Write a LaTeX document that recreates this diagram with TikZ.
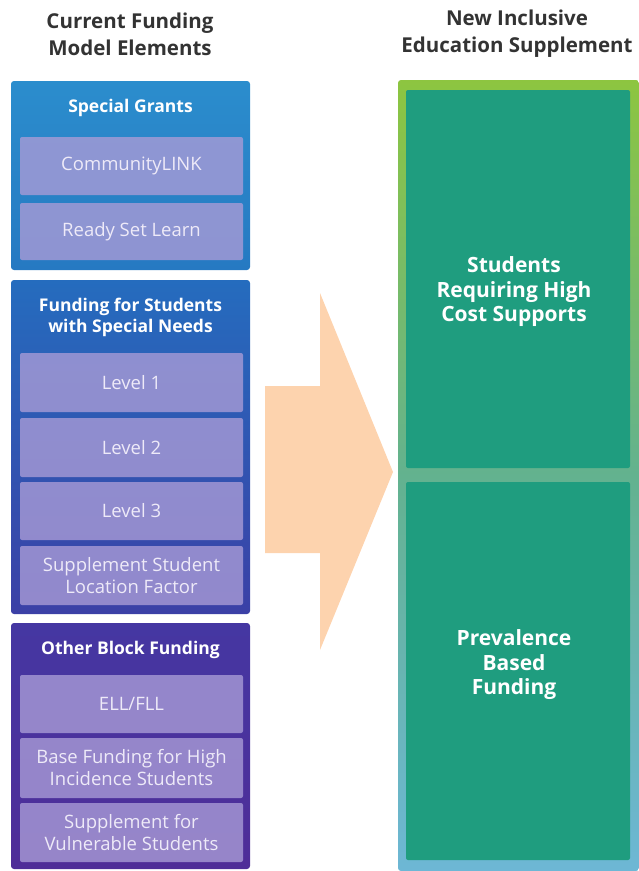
\documentclass[tikz,border=0pt]{standalone}
\usepackage{fontspec}
\setmainfont{Open Sans}
\usetikzlibrary{positioning}
\definecolor{titlegray}{HTML}{333333}
\definecolor{sgtop}{HTML}{2B8DCD}
\definecolor{sgbot}{HTML}{2679C2}
\definecolor{fsntop}{HTML}{256CBE}
\definecolor{fsnbot}{HTML}{3B40A6}
\definecolor{obftop}{HTML}{4537A2}
\definecolor{obfbot}{HTML}{4F2D98}
\definecolor{itemfill}{HTML}{A89BD6}
\definecolor{itemtext}{HTML}{EEEAF8}
\definecolor{newtop}{HTML}{8DC540}
\definecolor{newmid}{HTML}{63B28F}
\definecolor{newbot}{HTML}{6DB7D5}
\definecolor{tealfill}{HTML}{1F9D7F}
\definecolor{peach}{HTML}{FDD3AE}
\tikzset{
  coltitle/.style={font=\bfseries\fontsize{20.5}{27}\selectfont, text=titlegray, align=center},
  grp/.style={rounded corners=3pt, minimum width=239pt, inner sep=0pt},
  head/.style={font=\bfseries\fontsize{17.5}{21}\selectfont, text=white, align=center},
  item/.style={rounded corners=2pt, fill=itemfill, fill opacity=0.8, text opacity=1,
               minimum width=223pt, inner sep=0pt, text=itemtext, align=center,
               font=\fontsize{18.5}{22}\selectfont},
  part/.style={rounded corners=2pt, fill=tealfill, minimum width=224pt, minimum height=378pt,
               inner sep=0pt},
  parttext/.style={text=white, align=center, font=\bfseries\fontsize{21}{24.5}\selectfont},
}
\begin{document}
\begin{tikzpicture}[x=1pt, y=-1pt]
  \useasboundingbox (0,0) rectangle (639,871);
  % column titles
  \node[coltitle] (curtitle) at (130,34) {Current Funding\\Model Elements};
  \node[coltitle] (newtitle) at (517,34) {New Inclusive\\Education Supplement};
  % left groups
  \node[grp, minimum height=189pt, top color=sgtop, bottom color=sgbot] (sg) at (130.5,175.5) {};
  \node[grp, minimum height=334pt, top color=fsntop, bottom color=fsnbot] (fsn) at (130.5,447) {};
  \node[grp, minimum height=246pt, top color=obftop, bottom color=obfbot] (obf) at (130.5,746) {};
  \node[head] (sghead) at (130.5,108) {Special Grants};
  \node[head] (fsnhead) at (130.5,317) {Funding for Students\\with Special Needs};
  \node[head] (obfhead) at (130.5,650) {Other Block Funding};
  \foreach \n/\y/\h/\txt in {cl/166/58/CommunityLINK, rsl/231.5/57/Ready Set Learn,
      lv1/382.5/59/Level 1, lv2/447.5/59/Level 2, lv3/511/58/Level 3,
      ssl/575.5/59/{Supplement Student\\Location Factor}, ell/704/58/{ELL/FLL},
      bfh/768/60/{Base Funding for High\\Incidence Students},
      svs/832.5/59/{Supplement for\\Vulnerable Students}}{
    \node[item, minimum height=\h pt] (\n) at (131.5,\y) {\txt};
  }
  % arrow
  \fill[peach] (265,386) -- (320,386) -- (320,293) -- (393,472) -- (320,650)
    -- (320,553) -- (265,553) -- cycle;
  % right column
  \node[rounded corners=3pt, minimum width=241pt, minimum height=791pt, inner sep=0pt,
        top color=newtop, bottom color=newbot, middle color=newmid] (ies) at (518.5,475.5) {};
  \node[part] (hcs) at (518,279) {};
  \node[part] (pbf) at (518,671) {};
  \node[parttext] (hcstext) at (514,292) {Students\\Requiring High\\Cost Supports};
  \node[parttext] (pbftext) at (514,665) {Prevalence\\Based\\Funding};
\end{tikzpicture}
\end{document}
